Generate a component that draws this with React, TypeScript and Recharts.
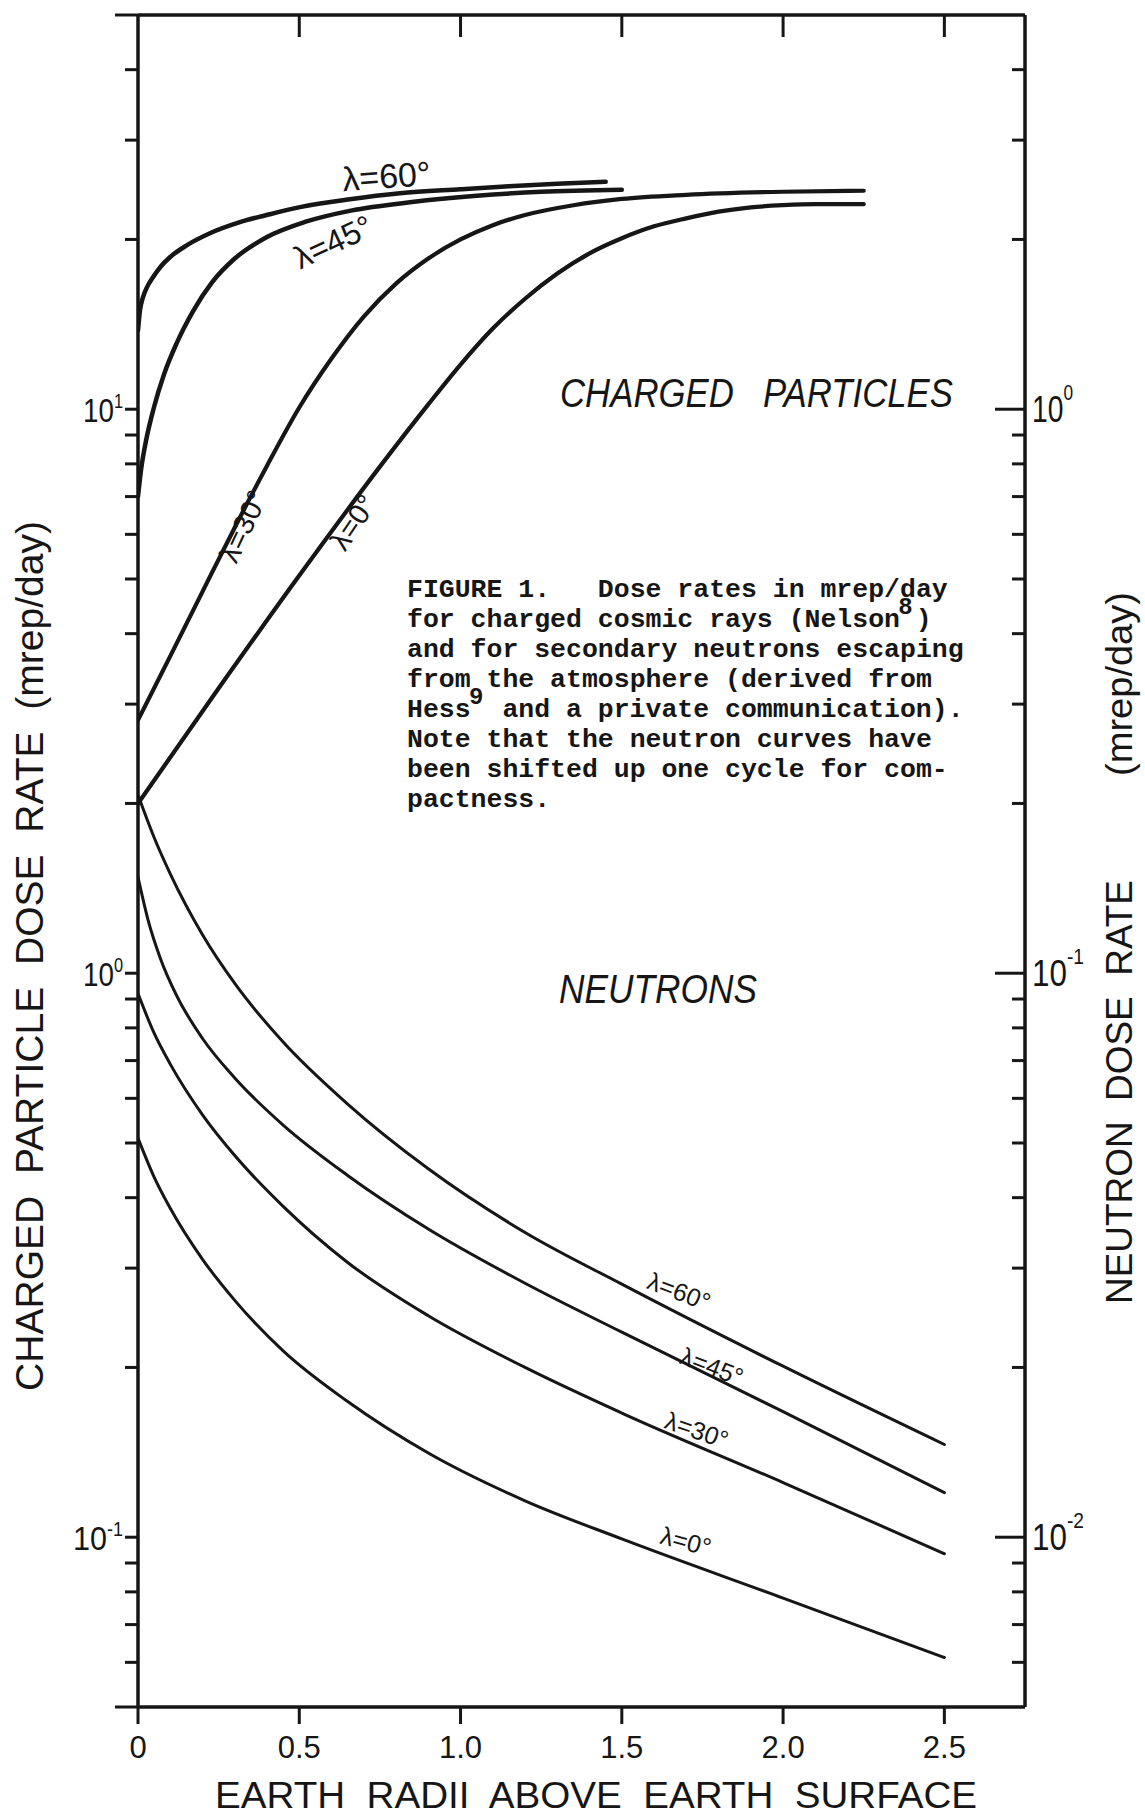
import React from 'react';
import { LineChart, Line, XAxis, YAxis, ReferenceDot } from 'recharts';

const INK = '#161616';

// Earth radii above the surface
const X_DOMAIN = [0, 2.75];
const X_TICKS = [0, 0.5, 1.0, 1.5, 2.0, 2.5];

// Charged-particle dose rate (mrep/day), left axis
const LEFT_DOMAIN = [0.05, 50];
const LEFT_TICKS = [
  0.05, 0.06, 0.07, 0.08, 0.09, 0.1, 0.2, 0.3, 0.4, 0.5, 0.6, 0.7, 0.8, 0.9,
  1, 2, 3, 4, 5, 6, 7, 8, 9, 10, 20, 30, 40, 50,
];

// Neutron dose rate (mrep/day), right axis
const RIGHT_DOMAIN = [0.005, 5];
const RIGHT_TICKS = [
  0.006, 0.007, 0.008, 0.009, 0.01, 0.02, 0.03, 0.04, 0.05, 0.06, 0.07, 0.08, 0.09,
  0.1, 0.2, 0.3, 0.4, 0.5, 0.6, 0.7, 0.8, 0.9, 1, 2, 3, 4,
];

// Charged cosmic rays (Nelson)
const CHARGED_60 = [
  { x: 0, v: 13.8 }, { x: 0.0062, v: 14.98 }, { x: 0.0155, v: 15.8 }, { x: 0.028, v: 16.46 },
  { x: 0.0465, v: 17.14 }, { x: 0.0713, v: 17.93 }, { x: 0.099, v: 18.6 }, { x: 0.152, v: 19.54 },
  { x: 0.223, v: 20.51 }, { x: 0.316, v: 21.46 }, { x: 0.409, v: 22.17 }, { x: 0.502, v: 22.82 },
  { x: 0.657, v: 23.57 }, { x: 0.812, v: 24.15 }, { x: 1.0, v: 24.55 }, { x: 1.15, v: 24.85 },
  { x: 1.3, v: 25.1 }, { x: 1.45, v: 25.3 },
];
const CHARGED_45 = [
  { x: 0, v: 7.0 }, { x: 0.01, v: 7.85 }, { x: 0.025, v: 8.8 }, { x: 0.05, v: 10.1 },
  { x: 0.08, v: 11.5 }, { x: 0.12, v: 13.1 }, { x: 0.17, v: 14.9 }, { x: 0.23, v: 16.8 },
  { x: 0.3, v: 18.5 }, { x: 0.4, v: 20.2 }, { x: 0.52, v: 21.5 }, { x: 0.66, v: 22.5 },
  { x: 0.85, v: 23.3 }, { x: 1.05, v: 23.9 }, { x: 1.25, v: 24.3 }, { x: 1.5, v: 24.5 },
];
const CHARGED_30 = [
  { x: 0, v: 2.81 }, { x: 0.1, v: 3.65 }, { x: 0.2, v: 4.75 }, { x: 0.3, v: 6.17 },
  { x: 0.4, v: 7.94 }, { x: 0.5, v: 10.07 }, { x: 0.6, v: 12.3 }, { x: 0.7, v: 14.6 },
  { x: 0.8, v: 16.7 }, { x: 0.9, v: 18.5 }, { x: 1.0, v: 20.0 }, { x: 1.1, v: 21.2 },
  { x: 1.2, v: 22.1 }, { x: 1.35, v: 23.0 }, { x: 1.5, v: 23.6 }, { x: 1.7, v: 24.0 },
  { x: 2.0, v: 24.3 }, { x: 2.25, v: 24.4 },
];
const CHARGED_0 = [
  { x: 0, v: 2.0 }, { x: 0.25, v: 3.2 }, { x: 0.5, v: 5.07 }, { x: 0.75, v: 7.91 },
  { x: 0.9, v: 10.2 }, { x: 1.0, v: 12.0 }, { x: 1.1, v: 13.9 }, { x: 1.2, v: 15.7 },
  { x: 1.3, v: 17.4 }, { x: 1.4, v: 18.9 }, { x: 1.5, v: 20.1 }, { x: 1.6, v: 21.1 },
  { x: 1.7, v: 21.8 }, { x: 1.8, v: 22.4 }, { x: 1.9, v: 22.8 }, { x: 2.0, v: 23.0 },
  { x: 2.1, v: 23.1 }, { x: 2.25, v: 23.1 },
];

// Secondary neutrons escaping from the atmosphere (Hess)
const NEUTRON_60 = [
  { x: 0, v: 0.207 }, { x: 0.05, v: 0.174 }, { x: 0.1, v: 0.15 }, { x: 0.2, v: 0.117 },
  { x: 0.3, v: 0.0959 }, { x: 0.45, v: 0.0755 }, { x: 0.65, v: 0.0586 }, { x: 0.9, v: 0.045 },
  { x: 1.2, v: 0.0347 }, { x: 1.5, v: 0.0281 }, { x: 2.0, v: 0.0201 }, { x: 2.5, v: 0.0146 },
];
const NEUTRON_45 = [
  { x: 0, v: 0.148 }, { x: 0.03, v: 0.125 }, { x: 0.07, v: 0.106 }, { x: 0.12, v: 0.0912 },
  { x: 0.2, v: 0.0766 }, { x: 0.3, v: 0.0652 }, { x: 0.45, v: 0.0538 }, { x: 0.65, v: 0.0438 },
  { x: 0.9, v: 0.0352 }, { x: 1.2, v: 0.0282 }, { x: 1.5, v: 0.0231 }, { x: 2.0, v: 0.0167 },
  { x: 2.5, v: 0.012 },
];
const NEUTRON_30 = [
  { x: 0, v: 0.092 }, { x: 0.05, v: 0.0783 }, { x: 0.1, v: 0.069 }, { x: 0.2, v: 0.0561 },
  { x: 0.3, v: 0.0475 }, { x: 0.45, v: 0.0386 }, { x: 0.65, v: 0.0307 }, { x: 0.9, v: 0.0247 },
  { x: 1.2, v: 0.02 }, { x: 1.5, v: 0.0166 }, { x: 2.0, v: 0.0125 }, { x: 2.5, v: 0.00935 },
];
const NEUTRON_0 = [
  { x: 0, v: 0.051 }, { x: 0.05, v: 0.0435 }, { x: 0.1, v: 0.0383 }, { x: 0.2, v: 0.0311 },
  { x: 0.3, v: 0.0263 }, { x: 0.45, v: 0.0214 }, { x: 0.65, v: 0.0174 }, { x: 0.9, v: 0.0141 },
  { x: 1.2, v: 0.0116 }, { x: 1.5, v: 0.00993 }, { x: 2.0, v: 0.0078 }, { x: 2.5, v: 0.00612 },
];

// Figure caption, one entry per typed line; a line may carry a raised
// reference number: [before, superscript, after]
const CAPTION: [string, string, string][] = [
  ['FIGURE 1.   Dose rates in mrep/day', '', ''],
  ['for charged cosmic rays (Nelson', '8', ')'],
  ['and for secondary neutrons escaping', '', ''],
  ['from the atmosphere (derived from', '', ''],
  ['Hess', '9', ' and a private communication).'],
  ['Note that the neutron curves have', '', ''],
  ['been shifted up one cycle for com-', '', ''],
  ['pactness.', '', ''],
];

// Curve labels, anchored in data coordinates of their own axis
const CURVE_LABELS = [
  { text: 'λ=60°', x: 0.77, y: 25.9, axis: 'left', angle: -4, size: 34 },
  { text: 'λ=45°', x: 0.605, y: 19.8, axis: 'left', angle: -25, size: 32 },
  { text: 'λ=30°', x: 0.326, y: 6.2, axis: 'left', angle: -65, size: 29 },
  { text: 'λ=0°', x: 0.667, y: 6.3, axis: 'left', angle: -56, size: 29 },
  { text: 'λ=60°', x: 1.678, y: 0.0273, axis: 'right', angle: 21, size: 25 },
  { text: 'λ=45°', x: 1.78, y: 0.0201, axis: 'right', angle: 21, size: 25 },
  { text: 'λ=30°', x: 1.733, y: 0.0155, axis: 'right', angle: 19, size: 25 },
  { text: 'λ=0°', x: 1.699, y: 0.00984, axis: 'right', angle: 15, size: 25 },
];

const SANS = '"Liberation Sans Narrow", "Liberation Sans", Arial, sans-serif';
const MONO = '"Liberation Mono", "DejaVu Sans Mono", monospace';
const AXIS_LINE = { stroke: INK, strokeWidth: 3.5 };
const PRE = { whiteSpace: 'pre' as const };
const CAP_X = 407;
const CAP_CHAR = 15.9;

function decadeExp(v: number): number | null {
  const l = Math.log10(v);
  const r = Math.round(l);
  return Math.abs(l - r) < 1e-6 ? r : null;
}

function LeftTick(props: any) {
  const { x, y, payload } = props;
  const v = payload.value;
  const edge = v === LEFT_DOMAIN[0] || v === LEFT_DOMAIN[1];
  const len = edge ? 23 : 13;
  const e = edge ? null : decadeExp(v);
  const sup = e === null ? '' : String(e);
  return (
    <g>
      <line x1={x - len} x2={x} y1={y} y2={y} stroke={INK} strokeWidth={3} />
      {e !== null && (
        <text
          x={x - 15} y={y + 13} textAnchor="end" fill={INK} fontFamily={SANS} fontSize={34}
          textLength={30 + sup.length * 10} lengthAdjust="spacingAndGlyphs"
        >
          <tspan>10</tspan>
          <tspan dy={-14} fontSize={20}>{sup}</tspan>
        </text>
      )}
    </g>
  );
}

function RightTick(props: any) {
  const { x, y, payload } = props;
  const e = decadeExp(payload.value);
  const len = e === null ? 13 : 30;
  const sup = e === null ? '' : String(e);
  return (
    <g>
      <line x1={x - len} x2={x} y1={y} y2={y} stroke={INK} strokeWidth={3} />
      {e !== null && (
        <text
          x={x + 7} y={y + 13} fill={INK} fontFamily={SANS} fontSize={36}
          textLength={30 + sup.length * 11} lengthAdjust="spacingAndGlyphs"
        >
          <tspan>10</tspan>
          <tspan dy={-22} fontSize={22}>{sup}</tspan>
        </text>
      )}
    </g>
  );
}

function BottomTick(props: any) {
  const { x, y, payload } = props;
  const v = payload.value;
  return (
    <g>
      <line x1={x} x2={x} y1={y} y2={y + 17} stroke={INK} strokeWidth={3} />
      <text x={x} y={y + 51} fontSize={31} textAnchor="middle" fill={INK} fontFamily={SANS}>
        {v === 0 ? '0' : v.toFixed(1)}
      </text>
    </g>
  );
}

function TopTick(props: any) {
  const { x, y } = props;
  return <line x1={x} x2={x} y1={y} y2={y + 22} stroke={INK} strokeWidth={3} />;
}

const SERIES = [
  { data: CHARGED_60, axis: 'left', w: 4.5 },
  { data: CHARGED_45, axis: 'left', w: 4.5 },
  { data: CHARGED_30, axis: 'left', w: 4.2 },
  { data: CHARGED_0, axis: 'left', w: 4.2 },
  { data: NEUTRON_60, axis: 'right', w: 3 },
  { data: NEUTRON_45, axis: 'right', w: 3 },
  { data: NEUTRON_30, axis: 'right', w: 3 },
  { data: NEUTRON_0, axis: 'right', w: 3 },
];

export default function App() {
  return (
    <div style={{ position: 'absolute', left: 0, top: 0, width: 1145, height: 1816, background: '#fff' }}>
      <LineChart width={1145} height={1816} margin={{ top: 0, right: 0, bottom: 0, left: 0 }}>
        <XAxis
          xAxisId="b" dataKey="x" type="number" domain={X_DOMAIN} ticks={X_TICKS} interval={0}
          height={109} tickSize={0} tickMargin={0} tickLine={false} axisLine={AXIS_LINE}
          tick={(p: any) => <BottomTick {...p} />} allowDataOverflow
        />
        <XAxis
          xAxisId="t" orientation="top" dataKey="x" type="number" domain={X_DOMAIN}
          ticks={X_TICKS.slice(1)} interval={0} height={15} tickSize={0} tickMargin={0}
          tickLine={false} axisLine={AXIS_LINE} tick={(p: any) => <TopTick {...p} />} allowDataOverflow
        />
        <YAxis
          yAxisId="left" type="number" scale="log" domain={LEFT_DOMAIN} ticks={LEFT_TICKS}
          interval={0} width={138} tickSize={0} tickMargin={0} tickLine={false} axisLine={AXIS_LINE}
          tick={(p: any) => <LeftTick {...p} />} allowDataOverflow
        />
        <YAxis
          yAxisId="right" orientation="right" type="number" scale="log" domain={RIGHT_DOMAIN}
          ticks={RIGHT_TICKS} interval={0} width={120} tickSize={0} tickMargin={0} tickLine={false}
          axisLine={AXIS_LINE} tick={(p: any) => <RightTick {...p} />} allowDataOverflow
        />
        {SERIES.map((s, i) => (
          <Line
            key={i} data={s.data} dataKey="v" xAxisId="b" yAxisId={s.axis} type="monotone"
            stroke={INK} strokeWidth={s.w} dot={false} activeDot={false} strokeLinecap="round"
            isAnimationActive={false}
          />
        ))}
        {CURVE_LABELS.map((l, i) => (
          <ReferenceDot
            key={'l' + i} x={l.x} y={l.y} xAxisId="b" yAxisId={l.axis} r={0}
            shape={(p: any) => (
              <text
                x={p.cx} y={p.cy} transform={`rotate(${l.angle} ${p.cx} ${p.cy})`}
                textAnchor="middle" dominantBaseline="central" fontSize={l.size}
                fontFamily={SANS} fill={INK}
              >
                {l.text}
              </text>
            )}
          />
        ))}
      </LineChart>
      <svg width={1145} height={1816} style={{ position: 'absolute', left: 0, top: 0, pointerEvents: 'none' }}>
        <g fill={INK} fontFamily={SANS}>
          <text
            transform="translate(43 956) rotate(-90)" textAnchor="middle" fontSize={38}
            textLength={870} lengthAdjust="spacingAndGlyphs" xmlSpace="preserve" style={PRE}
          >
            {'CHARGED  PARTICLE  DOSE  RATE  (mrep/day)'}
          </text>
          <text
            transform="translate(1132 1092) rotate(-90)" textAnchor="middle" fontSize={36}
            textLength={424} lengthAdjust="spacingAndGlyphs" xmlSpace="preserve" style={PRE}
          >
            {'NEUTRON  DOSE  RATE'}
          </text>
          <text
            transform="translate(1132 684) rotate(-90)" textAnchor="middle" fontSize={36}
            textLength={184} lengthAdjust="spacingAndGlyphs"
          >
            (mrep/day)
          </text>
          <text
            x={215} y={1808} fontSize={36} textLength={762} lengthAdjust="spacingAndGlyphs"
            xmlSpace="preserve" style={PRE}
          >
            {'EARTH  RADII  ABOVE  EARTH  SURFACE'}
          </text>
          <text
            x={560} y={407} fontSize={40} fontStyle="italic" textLength={393}
            lengthAdjust="spacingAndGlyphs" xmlSpace="preserve" style={PRE}
          >
            {'CHARGED   PARTICLES'}
          </text>
          <text x={559} y={1003} fontSize={40} fontStyle="italic" textLength={198} lengthAdjust="spacingAndGlyphs">
            NEUTRONS
          </text>
        </g>
        <g fill={INK} fontFamily={MONO} fontWeight="bold" fontSize={26.5}>
          {CAPTION.map(([before, sup, after], i) => (
            <text key={i} x={CAP_X} y={597 + 30 * i} xmlSpace="preserve" style={PRE}>
              <tspan>{before}</tspan>
              {sup !== '' && (
                <tspan x={CAP_X + (before.length - 0.1) * CAP_CHAR} dy={-13} fontSize={24}>{sup}</tspan>
              )}
              {sup !== '' && (
                <tspan x={CAP_X + (before.length + 1) * CAP_CHAR} dy={13}>{after}</tspan>
              )}
            </text>
          ))}
        </g>
      </svg>
    </div>
  );
}
